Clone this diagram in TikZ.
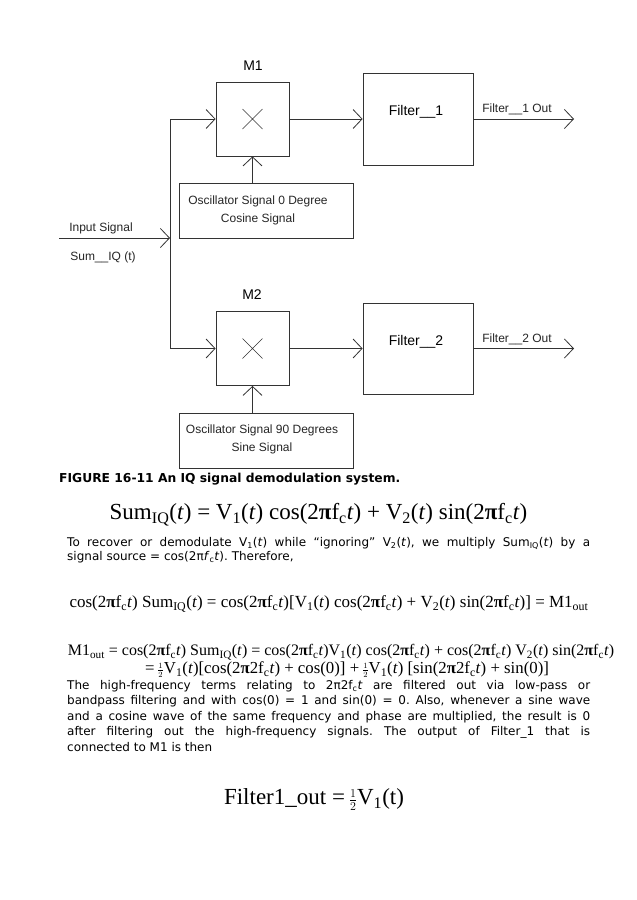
\documentclass[tikz,border=0pt]{standalone}
\usepackage{fontspec}
\setmainfont{Liberation Sans}
\newfontfamily\bodyfont{DejaVu Sans}
\newfontfamily\eqfont{Liberation Serif}
\usetikzlibrary{arrows.meta,positioning}
\frenchspacing

% one justified text line of the page column
\newcommand{\jline}[1]{\makebox[523pt][s]{#1}}
\newcommand{\half}{\,$\scriptstyle\frac{1}{2}$}
\newcommand{\tpi}{\textbf{π}}

\begin{document}
\begin{tikzpicture}[x=1pt,y=-1pt,
    wire/.style={draw=black!80, line width=0.8pt},
    sig/.style={wire, -{Straight Barb[length=9pt,width=19pt]}},
    mixbox/.style={wire, minimum width=73pt, minimum height=74pt, inner sep=0pt,
      path picture={\draw[black!80, line width=0.6pt]
        ([shift={(-10pt,-10pt)}]path picture bounding box.center) -- ++(20pt,20pt)
        ([shift={(-10pt,10pt)}]path picture bounding box.center) -- ++(20pt,-20pt);}},
    filterbox/.style={wire, minimum width=110pt, minimum height=92pt, inner sep=0pt},
    oscbox/.style={wire, minimum width=174pt, minimum height=55pt, inner sep=0pt},
    head/.style={font=\fontsize{14}{16}\selectfont, inner sep=0pt},
    lbl/.style={font=\fontsize{12}{18}\selectfont, inner sep=0pt, text=black!85},
    body/.style={font=\bodyfont\fontsize{12}{15}\selectfont, inner sep=0pt, anchor=mid west},
    bigeq/.style={font=\eqfont\fontsize{23}{26}\selectfont, inner sep=0pt, anchor=mid},
    eq/.style={font=\eqfont\fontsize{17}{20}\selectfont, inner sep=0pt, anchor=mid}]
  \fill[white] (0,0) rectangle (637,900);
  \useasboundingbox (0,0) rectangle (637,900);

  % ---- upper branch: M1 and Filter_1
  \node[mixbox] (m1) at (252.5,119) {};
  \node[head] (m1lbl) at (253,66) {M1};
  \node[filterbox] (f1) at (418,119) {};
  \node[head] (f1lbl) at (416,112) {Filter\_\_1};
  \coordinate (out1) at (574,119);
  \node[lbl] (out1lbl) at (517,109) {Filter\_\_1 Out};
  \node[oscbox] (osc1) at (266,210.5) {};
  \node[lbl, align=center] (osc1txt) at (258,210) {Oscillator Signal 0 Degree\\Cosine Signal};

  % ---- lower branch: M2 and Filter_2
  \node[mixbox] (m2) at (252.5,348.5) {};
  \node[head] (m2lbl) at (252,295) {M2};
  \node[filterbox, minimum height=91pt] (f2) at (418,348.5) {};
  \node[head] (f2lbl) at (416,342) {Filter\_\_2};
  \coordinate (out2) at (574,348.5);
  \node[lbl] (out2lbl) at (517,339) {Filter\_\_2 Out};
  \node[oscbox] (osc2) at (266,440.5) {};
  \node[lbl, align=center] (osc2txt) at (262,439) {Oscillator Signal 90 Degrees\\Sine Signal};

  % ---- input and split
  \coordinate (in) at (59,238);
  \coordinate (split) at (170,238);
  \node[lbl] (inlbl) at (101,228) {Input Signal};
  \node[lbl] (sumlbl) at (103,257) {Sum\_\_IQ (t)};
  \draw[sig] (in) -- (split);
  \draw[sig] (split) |- (m1.west);
  \draw[sig] (split) |- (m2.west);
  \draw[sig] (m1) -- (f1);
  \draw[sig] (m2) -- (f2);
  \draw[sig] (f1) -- (out1);
  \draw[sig] (f2) -- (out2);
  \draw[sig] (osc1.north -| m1.south) -- (m1.south);
  \draw[sig] (osc2.north -| m2.south) -- (m2.south);

  \node[body, font=\bodyfont\fontsize{12.3}{15}\selectfont\bfseries] (cap) at (59,479.5)
    {FIGURE 16-11 An IQ signal demodulation system.};

  % ---- text of the page
  \node[bigeq] (e1) at (318.5,517) {Sum\textsubscript{IQ}(\textit{t}) = V\textsubscript{1}(\textit{t}) cos(2\tpi f\textsubscript{c}\textit{t}) + V\textsubscript{2}(\textit{t}) sin(2\tpi f\textsubscript{c}\textit{t})};
  \node[body] (p1) at (67,544) {\jline{To recover or demodulate V\textsubscript{1}(\textit{t}) while “ignoring” V\textsubscript{2}(\textit{t}), we multiply Sum\textsubscript{IQ}(\textit{t}) by a}};
  \node[body] (p2) at (67,558) {signal source = cos(2π\textit{f}\textsubscript{c}\textit{t}). Therefore,};
  \node[eq] (e2) at (329,605) {cos(2\tpi f\textsubscript{c}\textit{t}) Sum\textsubscript{IQ}(\textit{t}) = cos(2\tpi f\textsubscript{c}\textit{t})[V\textsubscript{1}(\textit{t}) cos(2\tpi f\textsubscript{c}\textit{t}) + V\textsubscript{2}(\textit{t}) sin(2\tpi f\textsubscript{c}\textit{t})] = M1\textsubscript{out}};
  \node[eq, font=\eqfont\fontsize{16}{20}\selectfont] (e3a) at (341,653) {M1\textsubscript{out} = cos(2\tpi f\textsubscript{c}\textit{t}) Sum\textsubscript{IQ}(\textit{t}) = cos(2\tpi f\textsubscript{c}\textit{t})V\textsubscript{1}(\textit{t}) cos(2\tpi f\textsubscript{c}\textit{t}) + cos(2\tpi f\textsubscript{c}\textit{t}) V\textsubscript{2}(\textit{t}) sin(2\tpi f\textsubscript{c}\textit{t})};
  \node[eq, font=\eqfont\fontsize{16.8}{20}\selectfont] (e3b) at (347,671) {=\half V\textsubscript{1}(\textit{t})[cos(2\tpi 2f\textsubscript{c}\textit{t}) + cos(0)] +\half V\textsubscript{1}(\textit{t}) [sin(2\tpi 2f\textsubscript{c}\textit{t}) + sin(0)]};
  \node[body] (q1) at (67,687) {\jline{The high-frequency terms relating to 2π2f\textsubscript{c}\textit{t} are filtered out via low-pass or}};
  \node[body] (q2) at (67,702) {\jline{bandpass filtering and with cos(0) = 1 and sin(0) = 0. Also, whenever a sine wave}};
  \node[body] (q3) at (67,718) {\jline{and a cosine wave of the same frequency and phase are multiplied, the result is 0}};
  \node[body] (q4) at (67,733) {\jline{after filtering out the high-frequency signals. The output of Filter\_1 that is}};
  \node[body] (q5) at (67,749) {connected to M1 is then};
  \node[bigeq] (e4) at (314,802) {Filter1\_out =\half V\textsubscript{1}(t)};
\end{tikzpicture}
\end{document}
